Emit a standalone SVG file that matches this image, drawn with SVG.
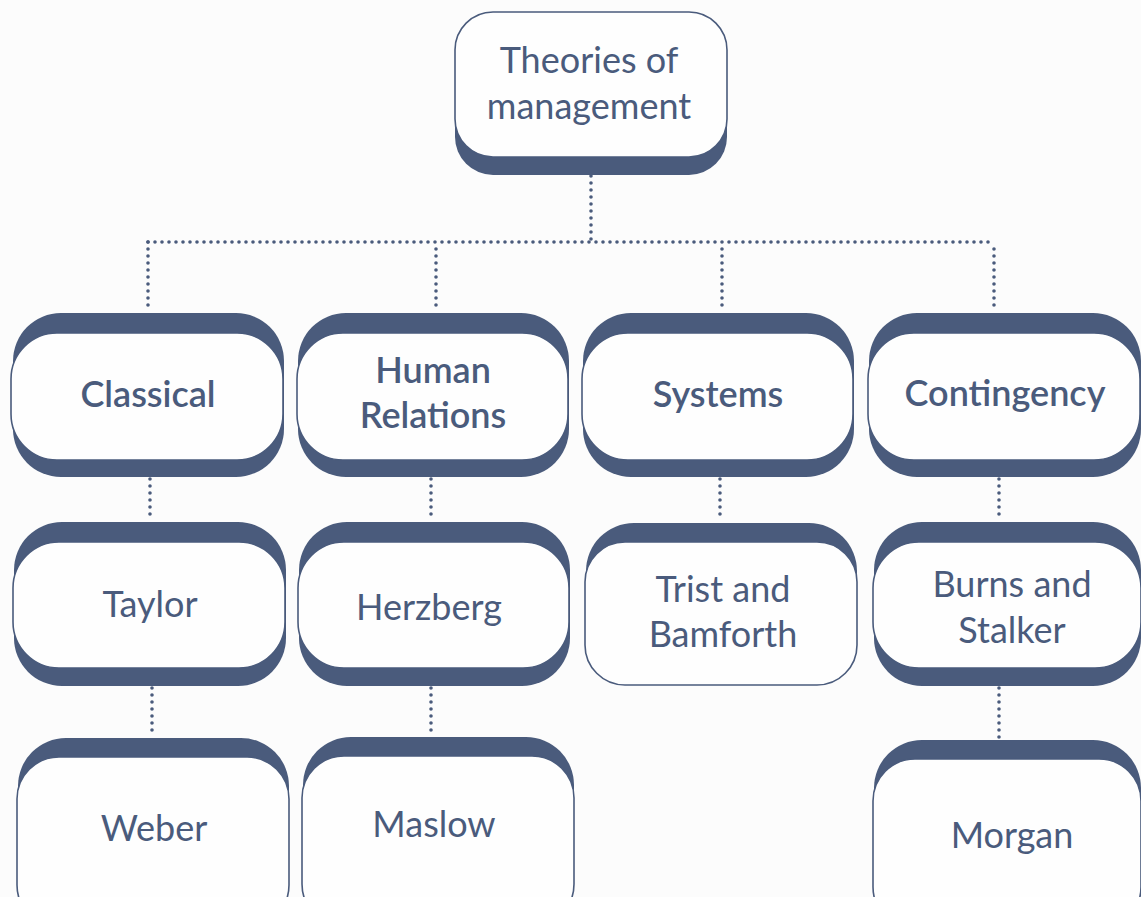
<svg xmlns="http://www.w3.org/2000/svg" width="1141" height="897" viewBox="0 0 1141 897">
  <style>
    .bg { fill: #fcfcfc; }
    .back { fill: #4a5b7c; }
    .face { fill: #fefefe; stroke: #4a5b7c; stroke-width: 1.6; }
    .lbl { font-family: Lato, "Open Sans", "Liberation Sans", sans-serif; font-size: 36px; fill: #4a5b7c; text-anchor: middle; }
    .head { font-weight: 600; }
    .dots { fill: none; stroke: #4a5b7c; stroke-width: 3.6; stroke-linecap: round; stroke-dasharray: 0 7; }
  </style>
  <rect class="bg" x="0" y="0" width="1141" height="897"/>

  <!-- dotted tree connectors -->
  <g id="connectors">
    <path class="dots" d="M591 176 V242"/>
    <path class="dots" d="M148 242 H994"/>
    <path class="dots" d="M148 242 V312"/>
    <path class="dots" d="M436 249 V312"/>
    <path class="dots" d="M722 249 V312"/>
    <path class="dots" d="M994 249 V312"/>
    <path class="dots" d="M150 479 V521"/>
    <path class="dots" d="M431 479 V521"/>
    <path class="dots" d="M720 479 V521"/>
    <path class="dots" d="M999 479 V521"/>
    <path class="dots" d="M152 688 V737"/>
    <path class="dots" d="M431 688 V736"/>
    <path class="dots" d="M999 688 V740"/>
  </g>

  <g id="root">
    <rect class="back" x="455" y="30" width="272" height="145" rx="38"/>
    <rect class="face" x="455" y="12" width="272" height="145" rx="38"/>
    <text class="lbl" x="589" y="73">Theories of</text>
    <text class="lbl" x="589" y="119">management</text>
  </g>

  <g id="classical">
    <rect class="back" x="13" y="313" width="271" height="164" rx="48"/>
    <rect class="face" x="11" y="333" width="272" height="127" rx="46"/>
    <text class="lbl head" x="148" y="407">Classical</text>
  </g>
  <g id="human-relations">
    <rect class="back" x="298" y="313" width="271" height="164" rx="48"/>
    <rect class="face" x="297" y="333" width="271" height="127" rx="46"/>
    <text class="lbl head" x="433" y="383">Human</text>
    <text class="lbl head" x="433" y="428">Relations</text>
  </g>
  <g id="systems">
    <rect class="back" x="583" y="313" width="271" height="164" rx="48"/>
    <rect class="face" x="582" y="333" width="271" height="127" rx="46"/>
    <text class="lbl head" x="718" y="407">Systems</text>
  </g>
  <g id="contingency">
    <rect class="back" x="869" y="313" width="272" height="164" rx="48"/>
    <rect class="face" x="868" y="333" width="272" height="127" rx="46"/>
    <text class="lbl head" x="1005" y="406">Contingency</text>
  </g>

  <g id="taylor">
    <rect class="back" x="14" y="522" width="272" height="164" rx="48"/>
    <rect class="face" x="13" y="542" width="272" height="126" rx="46"/>
    <text class="lbl" x="150" y="617">Taylor</text>
  </g>
  <g id="herzberg">
    <rect class="back" x="299" y="522" width="271" height="164" rx="48"/>
    <rect class="face" x="298" y="542" width="271" height="126" rx="46"/>
    <text class="lbl" x="429" y="620">Herzberg</text>
  </g>
  <g id="trist-bamforth">
    <rect class="back" x="586" y="523" width="271" height="140" rx="48"/>
    <rect class="face" x="585" y="542" width="272" height="143" rx="40"/>
    <text class="lbl" x="723" y="602">Trist and</text>
    <text class="lbl" x="723" y="647">Bamforth</text>
  </g>
  <g id="burns-stalker">
    <rect class="back" x="874" y="522" width="267" height="164" rx="48"/>
    <rect class="face" x="873" y="542" width="268" height="126" rx="46"/>
    <text class="lbl" x="1012" y="597">Burns and</text>
    <text class="lbl" x="1012" y="643">Stalker</text>
  </g>

  <g id="weber">
    <rect class="back" x="18" y="738" width="271" height="180" rx="48"/>
    <rect class="face" x="17" y="757" width="272" height="170" rx="42"/>
    <text class="lbl" x="154" y="841">Weber</text>
  </g>
  <g id="maslow">
    <rect class="back" x="303" y="737" width="271" height="180" rx="48"/>
    <rect class="face" x="302" y="756" width="272" height="170" rx="42"/>
    <text class="lbl" x="434" y="837">Maslow</text>
  </g>
  <g id="morgan">
    <rect class="back" x="874" y="740" width="267" height="180" rx="48"/>
    <rect class="face" x="873" y="759" width="268" height="170" rx="42"/>
    <text class="lbl" x="1012" y="848">Morgan</text>
  </g>
</svg>
